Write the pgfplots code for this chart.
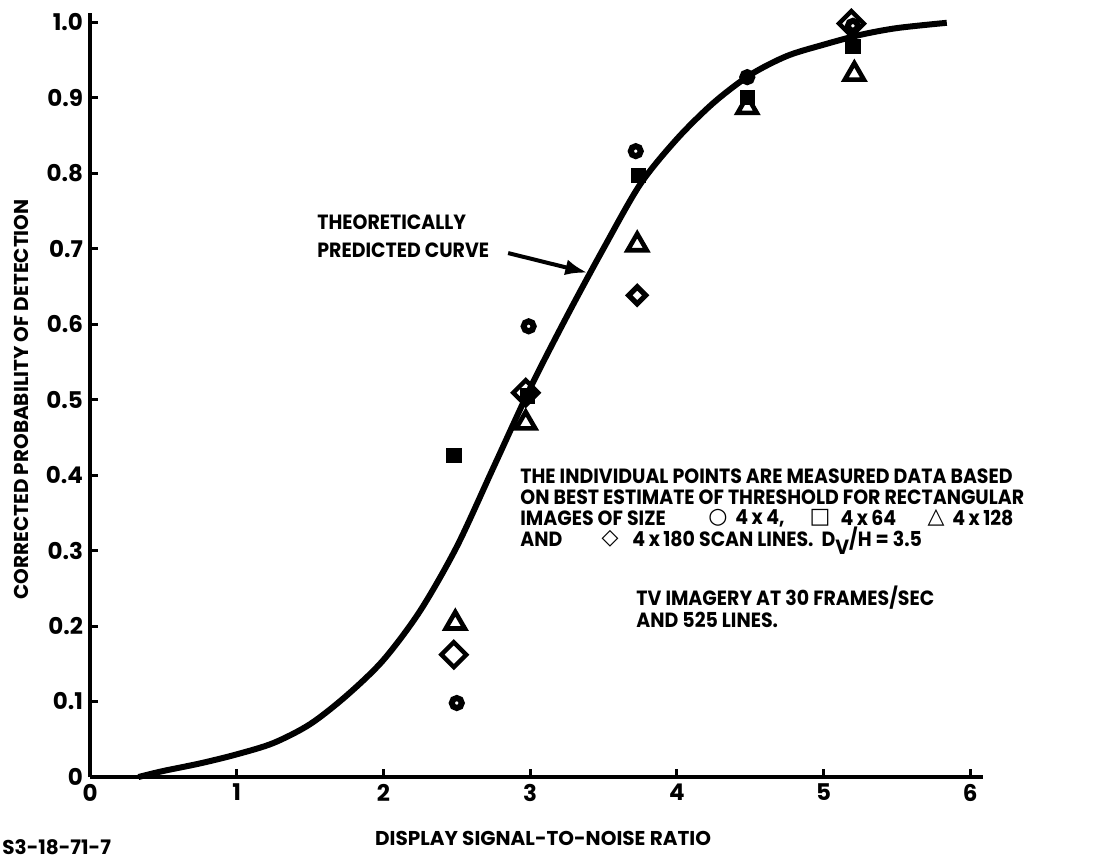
\documentclass[border=0pt]{standalone}
\usepackage{pgfplots}
\pgfplotsset{compat=1.18}
\usetikzlibrary{arrows.meta}
\usepackage{fontspec}
\setmainfont{Poppins}
\newfontfamily\narrowf{Poppins}[FakeStretch=0.92]
\newfontfamily\symf{DejaVu Sans}
\newcommand{\lb}{\bfseries\fontsize{10}{10.5}\selectfont}
\newcommand{\tb}{\narrowf\bfseries\fontsize{10.3}{10.5}\selectfont}
\newcommand{\symb}{\symf\bfseries\fontsize{11}{11}\selectfont}

\begin{document}
\begin{tikzpicture}
\useasboundingbox (-45pt,-42.5pt) rectangle (511pt,388.5pt);
\begin{axis}[
  scale only axis, width=446.5pt, height=382pt,
  xmin=0, xmax=6.087, ymin=0, ymax=1.012,
  axis lines=left, axis line style={-, line width=1.8pt},
  tick align=inside, major tick length=4pt,
  tick style={line width=1.5pt, black},
  xtick={0,1,2,3,4,5,6},
  xticklabels={0,1,2,3,4,5,6},
  ytick={0,0.1,0.2,0.3,0.4,0.5,0.6,0.7,0.8,0.9,1.0},
  yticklabels={0,0.1,0.2,0.3,0.4,0.5,0.6,0.7,0.8,0.9,1.0},
  ticklabel style={font=\bfseries\fontsize{11.5}{12}\selectfont},
  clip=false,
]
% theoretical curve
\addplot[smooth, line width=3pt, black] coordinates {
  (0.33,0) (0.5,0.008) (0.75,0.018) (1.0,0.030) (1.25,0.045) (1.5,0.070)
  (1.75,0.108) (2.0,0.155) (2.25,0.220) (2.5,0.305) (2.75,0.41) (3.0,0.515)
  (3.25,0.61) (3.5,0.70) (3.75,0.785) (4.0,0.845) (4.25,0.893) (4.5,0.930)
  (4.75,0.955) (5.0,0.970) (5.25,0.983) (5.5,0.992) (5.84,0.999)
};
% 4x4 circles
\addplot[only marks, mark=o, mark size=2.5pt, mark options={line width=3pt, black}] coordinates {
  (2.50,0.098) (2.99,0.597) (3.72,0.829) (4.48,0.927) (5.20,0.995)
};
% 4x64 squares
\addplot[only marks, mark=square*, mark size=3.6pt, mark options={black, fill=black}] coordinates {
  (2.48,0.426) (2.98,0.505) (3.74,0.797) (4.48,0.900) (5.20,0.968)
};
% 4x128 triangles
\addplot[only marks, mark=triangle, mark size=5.5pt, mark options={line width=2.3pt, black}] coordinates {
  (2.49,0.204) (2.97,0.469) (3.73,0.705) (4.48,0.887) (5.21,0.931)
};
% 4x180 diamonds
\addplot[only marks, mark=square, mark size=4.4pt, mark options={line width=2.2pt, black, rotate=45}] coordinates {
  (2.48,0.162) (2.97,0.509) (5.19,0.998)
};
\addplot[only marks, mark=square, mark size=3pt, mark options={line width=2.6pt, black, rotate=45}] coordinates {
  (3.73,0.638)
};

\node[anchor=west, font=\tb, inner sep=0pt] at (axis cs:1.547,0.735) {THEORETICALLY};
\node[anchor=west, font=\tb, inner sep=0pt] at (axis cs:1.547,0.698) {PREDICTED CURVE};
\draw[line width=2pt, -{Latex[length=11pt, width=8pt]}] (axis cs:2.85,0.694) -- (axis cs:3.39,0.668);

\node[anchor=west, font=\tb, inner sep=0pt] at (axis cs:2.931,0.399) {THE INDIVIDUAL POINTS ARE MEASURED DATA BASED};
\node[anchor=west, font=\tb, inner sep=0pt] at (axis cs:2.931,0.371) {ON BEST ESTIMATE OF THRESHOLD FOR RECTANGULAR};
\node[anchor=west, font=\tb, inner sep=0pt] at (axis cs:2.931,0.343) {IMAGES OF SIZE};
\node[font=\symb, inner sep=0pt] at (axis cs:4.281,0.343) {○};
\node[anchor=west, font=\tb, inner sep=0pt] at (axis cs:4.397,0.343) {4\,x\,4,};
\node[font=\symb, inner sep=0pt] at (axis cs:4.976,0.343) {□};
\node[anchor=west, font=\tb, inner sep=0pt] at (axis cs:5.113,0.343) {4\,x\,64};
\node[font=\symb, inner sep=0pt] at (axis cs:5.767,0.343) {△};
\node[anchor=west, font=\tb, inner sep=0pt] at (axis cs:5.876,0.343) {4\,x\,128};
\node[anchor=west, font=\tb, inner sep=0pt] at (axis cs:2.931,0.315) {AND};
\node[font=\symb, inner sep=0pt] at (axis cs:3.545,0.315) {◇};
\node[anchor=base west, font=\tb, inner sep=0pt] at ([yshift=-3.5pt]axis cs:3.695,0.315) {4\,x\,180 SCAN LINES.\ \ D\raisebox{-0.7ex}{V}/H = 3.5};
\node[anchor=west, font=\tb, inner sep=0pt] at (axis cs:3.722,0.237) {TV IMAGERY AT 30 FRAMES/SEC};
\node[anchor=west, font=\tb, inner sep=0pt] at (axis cs:3.722,0.208) {AND 525 LINES.};

\node[rotate=90, font=\lb, inner sep=0pt] at (axis cs:-0.464,0.50) {CORRECTED PROBABILITY OF DETECTION};
\node[font=\lb, inner sep=0pt] at (axis cs:3.088,-0.081) {DISPLAY SIGNAL-TO-NOISE RATIO};
\node[anchor=west, font=\lb, inner sep=0pt] at (axis cs:-0.60,-0.093) {S3-18-71-7};
\end{axis}
\end{tikzpicture}
\end{document}
